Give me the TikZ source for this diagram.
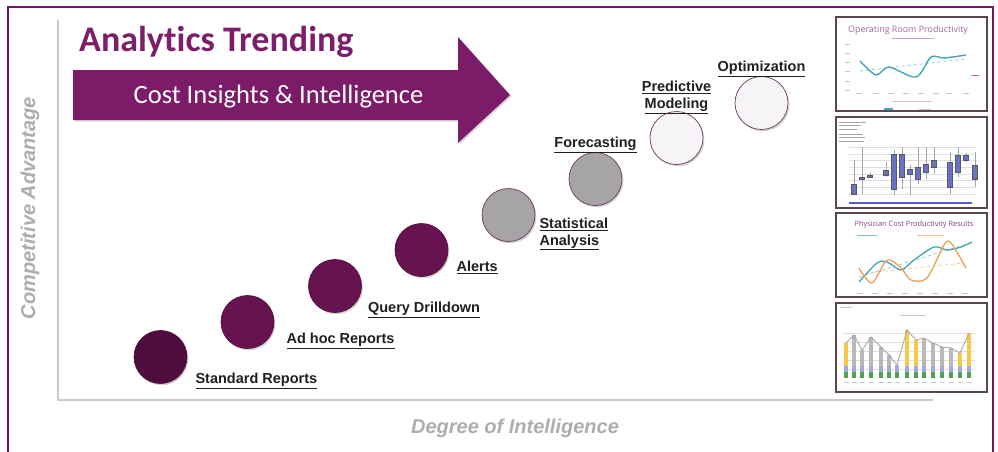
\documentclass[tikz,border=0pt]{standalone}
\usepackage{fontspec}
\setmainfont{Liberation Sans}
\newfontfamily\carlito[Ligatures=NoCommon]{Carlito}
\newfontfamily\opensans{Open Sans}
\usetikzlibrary{arrows.meta,positioning,shadows}

\definecolor{frameplum}{HTML}{6E1A5E}
\definecolor{titleplum}{HTML}{7C1E6A}
\definecolor{arrowplum}{HTML}{7C1B68}
\definecolor{stagedeep}{HTML}{4E0D3B}
\definecolor{stagedark}{HTML}{661350}
\definecolor{stagegray}{HTML}{A6A4A6}
\definecolor{stagelight}{HTML}{F6F4F6}
\definecolor{stageedge}{HTML}{6B3A5C}
\definecolor{axisgray}{HTML}{C9C9C9}
\definecolor{axisink}{HTML}{ADADAD}
\definecolor{labelink}{HTML}{202020}
\definecolor{thumbedge}{HTML}{5B4651}
\definecolor{chartteal}{HTML}{3FA7B5}
\definecolor{chartorange}{HTML}{F0A050}
\definecolor{chartblue}{HTML}{6A72C4}
\definecolor{chartyellow}{HTML}{F5C84A}
\definecolor{orpink}{HTML}{A8649E}
\definecolor{physplum}{HTML}{8A3A90}

\begin{document}
\begin{tikzpicture}[
  x=1pt, y=-1pt,
  node distance=6pt,
  stagebase/.style={circle, minimum size=53pt, inner sep=0pt, line width=0.7pt,
                    drop shadow={shadow xshift=1.3pt, shadow yshift=-1.8pt, opacity=0.35}},
  darkstage/.style={stagebase, fill=stagedark, draw=stagedark!80!black},
  graystage/.style={stagebase, fill=stagegray, draw=stageedge},
  lightstage/.style={stagebase, fill=stagelight, draw=stageedge},
  lbl/.style={font=\bfseries\fontsize{14.5}{17}\selectfont, text=labelink, inner sep=1pt, align=left},
  axislbl/.style={font=\bfseries\itshape\fontsize{20}{24}\selectfont, text=axisink},
  thumb/.style={draw=thumbedge, line width=1.6pt, fill=white, inner sep=0pt},
  tick/.style={gray!45, line width=0.8pt},
  grid/.style={gray!25, line width=0.4pt}
]
\useasboundingbox (0,0) rectangle (998,452);

% frame and axes
\draw[frameplum, line width=2pt] (8,452) -- (8,7) -- (993,7) -- (993,452);
\draw[axisgray, line width=1.6pt] (58,20) -- (58,400) -- (933,400);
\node[axislbl, rotate=90] (yax) at (30,208) {Competitive Advantage};
\node[axislbl] (xax) at (515,428) {Degree of Intelligence};

% title and banner arrow
\node[anchor=base west, inner sep=0pt, text=titleplum, font=\carlito\bfseries\fontsize{36}{42}\selectfont] (ttl) at (79,52) {Analytics Trending};
\fill[arrowplum, drop shadow={shadow xshift=1.5pt, shadow yshift=-1.5pt, opacity=0.3}]
  (73,70) -- (458,70) -- (458,37) -- (510,95) -- (458,143) -- (458,120) -- (73,120) -- cycle;
\node[anchor=base, inner sep=0pt, text=white, font=\carlito\fontsize{26.5}{30}\selectfont] (banner) at (278.5,103) {Cost Insights \& Intelligence};

% stages
\node[darkstage, fill=stagedeep] (std) at (160.5,357) {};
\node[darkstage] (adhoc) at (247.5,322) {};
\node[darkstage] (query) at (335,286) {};
\node[darkstage] (alert) at (421.5,250) {};
\node[graystage] (stat) at (508.5,215) {};
\node[graystage] (fcast) at (595.5,179) {};
\node[lightstage] (pred) at (676.5,138) {};
\node[lightstage] (optim) at (761.5,103) {};

\node[lbl, right=7pt of std, yshift=-24pt] (stdl) {\underline{Standard Reports}};
\node[lbl, right=11pt of adhoc, yshift=-19pt] (adhocl) {\underline{Ad hoc Reports}};
\node[lbl, right=5pt of query, yshift=-24pt] (queryl) {\underline{Query Drilldown}};
\node[lbl, right=7pt of alert, yshift=-17pt] (alertl) {\underline{Alerts}};
\node[lbl, right=3pt of stat, yshift=-19pt] (statl) {\underline{Statistical}\\\underline{Analysis}};
\node[lbl, above=-2pt of fcast] (fcastl) {\underline{Forecasting}};
\node[lbl, above=-4pt of pred, align=center] (predl) {\underline{Predictive}\\\underline{Modeling}};
\node[lbl, above=-2pt of optim] (optiml) {\underline{Optimization}};

% thumbnail 1: operating room
\node[thumb, minimum width=151pt, minimum height=94pt] (orp) at (911.5,64) {};
\node[text=orpink, font=\opensans\fontsize{8.9}{11}\selectfont, inner sep=0pt] (orpt) at (908,30) {Operating Room Productivity};
\draw[orpink!60, line width=0.8pt] (892,38) -- (934,38);
\foreach \ty in {44,53,62,71,81,90} \draw[tick] (845,\ty) -- (850,\ty);
\foreach \tx in {859,876,891,906,921,936,949,966} \draw[tick] (\tx-3,93) -- (\tx+3,93);
\draw[chartteal!60, dashed, line width=0.8pt] (860,71) -- (966,59);
\draw[chartteal, line width=1.4pt] plot[smooth] coordinates {(860,61) (876,75) (889,67) (916,77) (931,57) (944,58) (966,55)};
\draw[red!60, line width=0.8pt] (971,75) -- (979,75);
\draw[tick] (892,101) -- (932,101);
\draw[chartteal, line width=2pt] (884,109) -- (893,109);
\draw[tick] (919,109) -- (931,109);

% thumbnail 2: box plot
\node[thumb, minimum width=151pt, minimum height=91pt] (boxp) at (911.5,162.5) {};
\foreach \ty/\tl in {122/27, 125/22, 129/18, 134/24, 137/26, 141/25} \draw[gray!70, line width=0.8pt] (839,\ty) -- ++(\tl,0);
\foreach \ty in {147,154,160,167,174,180,187,194} \draw[grid] (849,\ty) -- (977,\ty);
\foreach \bx/\blo/\bhi/\wlo/\whi in {854/184/194/160/195, 862/177/179/147/194, 870/175/177/173/178,
  886/170/175/162/177, 894/154/189/150/195, 902/154/177/147/189, 910/169/174/165/195,
  918/167/179/147/184, 926/164/172/147/179, 934/160/167/147/174, 950/162/187/152/194,
  958/155/172/147/177, 966/155/160/153/162, 975/165/179/152/187}
{
  \draw[gray!70, line width=0.6pt] (\bx,\wlo) -- (\bx,\whi);
  \filldraw[fill=chartblue, draw=gray!70!black, line width=0.4pt] (\bx-2.5,\blo) rectangle (\bx+2.5,\bhi);
}
\draw[chartblue!80!blue, line width=2.6pt] (849,203) -- (972,203);

% thumbnail 3: physician cost
\node[thumb, minimum width=151pt, minimum height=84pt] (phys) at (911.5,255) {};
\node[text=physplum, font=\opensans\fontsize{7.4}{9}\selectfont, inner sep=0pt] (physt) at (914,225) {Physician Cost Productivity Results};
\draw[chartteal!70, line width=0.8pt] (857,235) -- (877,235);
\draw[chartorange!70, line width=0.8pt] (917,235) -- (944,235);
\foreach \tx in {860,875,890,905,920,935,950,965} \draw[tick] (\tx-3,293) -- (\tx+3,293);
\draw[chartteal!60, dashed, line width=0.8pt] (859,277) -- (971,243);
\draw[chartorange!60, dashed, line width=0.8pt] (867,273) -- (964,263);
\draw[chartteal, line width=1.3pt] plot[smooth] coordinates {(859,282) (877,263) (887,262) (901,270) (914,260) (934,247) (947,250) (961,247) (972,242)};
\draw[chartorange, line width=1.3pt] plot[smooth] coordinates {(859,268) (872,283) (887,260) (901,268) (911,280) (927,278) (944,245) (951,243) (966,268)};

% thumbnail 4: stacked bars
\node[thumb, minimum width=151pt, minimum height=89pt] (bars) at (911.5,347.5) {};
\draw[tick] (840,307) -- (852,307);
\draw[tick] (900,315) -- (925,315);
\foreach \ty in {333,342,351,360,369} \draw[grid] (843,\ty) -- (975,\ty);
\foreach \bx/\btop/\bcol in {846/343/chartyellow, 854/335/gray!55, 862/350/gray!55, 871/337/gray!55,
  881/347/gray!55, 889/355/gray!55, 897/365/gray!55, 907/330/chartyellow, 916/340/chartyellow,
  924/338/gray!55, 933/343/gray!55, 942/347/gray!55, 951/348/gray!55, 960/353/chartyellow, 969/333/chartyellow}
{
  \fill[\bcol] (\bx-2,\btop) rectangle (\bx+2,378);
  \fill[chartblue!60] (\bx-2,366) rectangle (\bx+2,372);
  \fill[green!50!black!70] (\bx-2,372) rectangle (\bx+2,378);
}
\draw[gray!70, line width=0.8pt] plot coordinates {(846,343) (854,335) (862,350) (871,337) (881,347) (889,355) (897,365) (907,330) (916,340) (924,338) (933,343) (942,347) (951,348) (960,353) (969,333)};
\foreach \tx in {846,854,862,871,881,889,897,907,916,924,933,942,951,960,969} \draw[tick] (\tx-2.5,382) -- (\tx+2.5,382);
\end{tikzpicture}
\end{document}
